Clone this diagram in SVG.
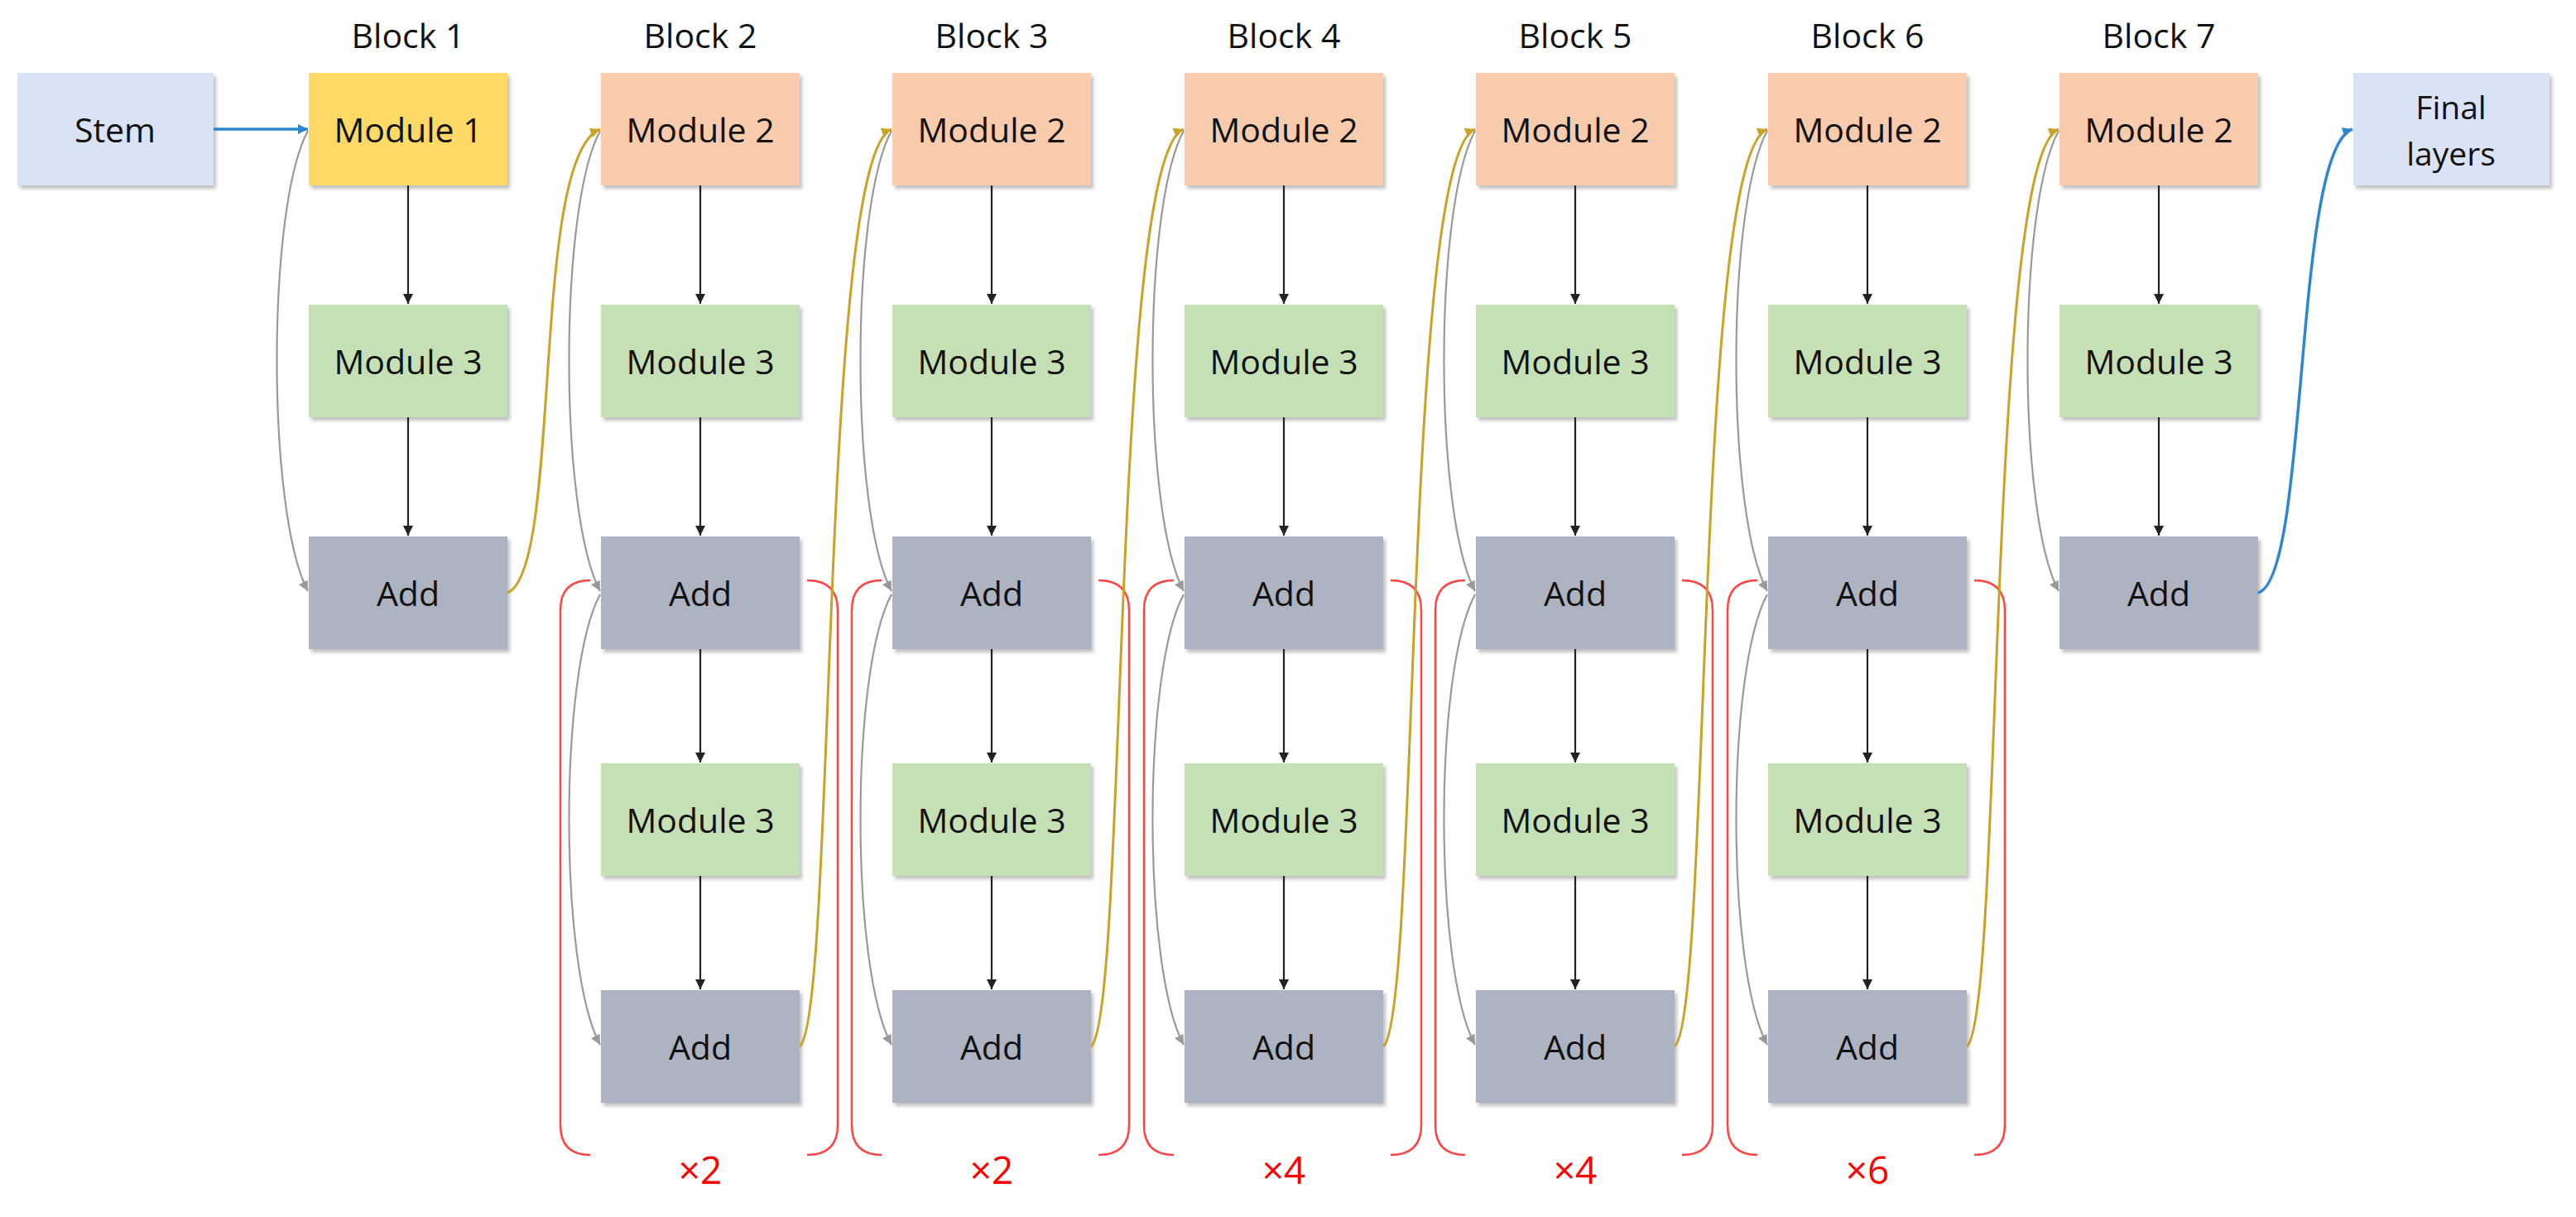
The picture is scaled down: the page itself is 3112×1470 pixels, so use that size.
<svg xmlns="http://www.w3.org/2000/svg" width="3112" height="1470" viewBox="0 0 3112 1470">
<style>
text{font-family:"Open Sans","Liberation Sans",sans-serif;fill:#111;text-anchor:middle;dominant-baseline:central}
.t{font-size:41px}.b{font-size:41px}.f{font-size:39px}.x{font-size:46px;fill:#f00}
.stem{fill:#DAE3F3}.m1{fill:#FFD966}.m2{fill:#F8CBAD}.m3{fill:#C5E0B4}.add{fill:#ADB3C1}
rect{filter:url(#sh)}
.k{stroke:#222;stroke-width:2.2;fill:none;marker-end:url(#ak)}
.g{stroke:#999;stroke-width:2.2;fill:none;marker-end:url(#ag)}
.y{stroke:#C9A227;stroke-width:3;fill:none;marker-end:url(#ay)}
.bl{stroke:#2E86D0;stroke-width:3.5;fill:none;marker-end:url(#ab)}
.br{stroke:#F44;stroke-width:2.5;fill:none}
</style>
<defs>
<filter id="sh" x="-5%" y="-5%" width="115%" height="115%"><feDropShadow dx="3" dy="4" stdDeviation="2" flood-color="#000" flood-opacity="0.25"/></filter>
<marker id="ak" markerUnits="userSpaceOnUse" markerWidth="14" markerHeight="14" refX="12" refY="6" orient="auto"><path d="M0,0 L12,6 L0,12 Z" fill="#222"/></marker>
<marker id="ag" markerUnits="userSpaceOnUse" markerWidth="14" markerHeight="14" refX="12" refY="6" orient="auto"><path d="M0,0 L12,6 L0,12 Z" fill="#999"/></marker>
<marker id="ay" markerUnits="userSpaceOnUse" markerWidth="14" markerHeight="14" refX="12" refY="6" orient="auto"><path d="M0,0 L12,6 L0,12 Z" fill="#C9A227"/></marker>
<marker id="ab" markerUnits="userSpaceOnUse" markerWidth="14" markerHeight="14" refX="12" refY="6" orient="auto"><path d="M0,0 L12,6 L0,12 Z" fill="#2E86D0"/></marker>
</defs>
<rect width="3112" height="1470" fill="#fff" style="filter:none"/>
<g id="labels">
<text class="t" x="493" y="42">Block 1</text><text class="t" x="846" y="42">Block 2</text><text class="t" x="1198" y="42">Block 3</text><text class="t" x="1551" y="42">Block 4</text><text class="t" x="1903" y="42">Block 5</text><text class="t" x="2256" y="42">Block 6</text><text class="t" x="2608" y="42">Block 7</text>
</g>
<g id="stem"><rect class="stem" x="21" y="88" width="237" height="136"/><text class="b" x="139" y="156">Stem</text></g>
<g id="final"><rect class="stem" x="2843" y="88" width="237" height="136"/><text class="f" x="2961" y="128">Final</text><text class="f" x="2961" y="184">layers</text></g>
<g id="b1"><rect class="m1" x="373" y="88" width="240" height="136"/><text class="b" x="493" y="156">Module 1</text>
<rect class="m3" x="373" y="368" width="240" height="136"/><text class="b" x="493" y="436">Module 3</text>
<rect class="add" x="373" y="648" width="240" height="136"/><text class="b" x="493" y="716">Add</text></g>
<g id="b2"><rect class="m2" x="726" y="88" width="240" height="136"/><text class="b" x="846" y="156">Module 2</text>
<rect class="m3" x="726" y="368" width="240" height="136"/><text class="b" x="846" y="436">Module 3</text>
<rect class="add" x="726" y="648" width="240" height="136"/><text class="b" x="846" y="716">Add</text>
<rect class="m3" x="726" y="922" width="240" height="136"/><text class="b" x="846" y="990">Module 3</text>
<rect class="add" x="726" y="1196" width="240" height="136"/><text class="b" x="846" y="1264">Add</text></g>
<g id="b3"><rect class="m2" x="1078" y="88" width="240" height="136"/><text class="b" x="1198" y="156">Module 2</text>
<rect class="m3" x="1078" y="368" width="240" height="136"/><text class="b" x="1198" y="436">Module 3</text>
<rect class="add" x="1078" y="648" width="240" height="136"/><text class="b" x="1198" y="716">Add</text>
<rect class="m3" x="1078" y="922" width="240" height="136"/><text class="b" x="1198" y="990">Module 3</text>
<rect class="add" x="1078" y="1196" width="240" height="136"/><text class="b" x="1198" y="1264">Add</text></g>
<g id="b4"><rect class="m2" x="1431" y="88" width="240" height="136"/><text class="b" x="1551" y="156">Module 2</text>
<rect class="m3" x="1431" y="368" width="240" height="136"/><text class="b" x="1551" y="436">Module 3</text>
<rect class="add" x="1431" y="648" width="240" height="136"/><text class="b" x="1551" y="716">Add</text>
<rect class="m3" x="1431" y="922" width="240" height="136"/><text class="b" x="1551" y="990">Module 3</text>
<rect class="add" x="1431" y="1196" width="240" height="136"/><text class="b" x="1551" y="1264">Add</text></g>
<g id="b5"><rect class="m2" x="1783" y="88" width="240" height="136"/><text class="b" x="1903" y="156">Module 2</text>
<rect class="m3" x="1783" y="368" width="240" height="136"/><text class="b" x="1903" y="436">Module 3</text>
<rect class="add" x="1783" y="648" width="240" height="136"/><text class="b" x="1903" y="716">Add</text>
<rect class="m3" x="1783" y="922" width="240" height="136"/><text class="b" x="1903" y="990">Module 3</text>
<rect class="add" x="1783" y="1196" width="240" height="136"/><text class="b" x="1903" y="1264">Add</text></g>
<g id="b6"><rect class="m2" x="2136" y="88" width="240" height="136"/><text class="b" x="2256" y="156">Module 2</text>
<rect class="m3" x="2136" y="368" width="240" height="136"/><text class="b" x="2256" y="436">Module 3</text>
<rect class="add" x="2136" y="648" width="240" height="136"/><text class="b" x="2256" y="716">Add</text>
<rect class="m3" x="2136" y="922" width="240" height="136"/><text class="b" x="2256" y="990">Module 3</text>
<rect class="add" x="2136" y="1196" width="240" height="136"/><text class="b" x="2256" y="1264">Add</text></g>
<g id="b7"><rect class="m2" x="2488" y="88" width="240" height="136"/><text class="b" x="2608" y="156">Module 2</text>
<rect class="m3" x="2488" y="368" width="240" height="136"/><text class="b" x="2608" y="436">Module 3</text>
<rect class="add" x="2488" y="648" width="240" height="136"/><text class="b" x="2608" y="716">Add</text></g>
<g id="repeats">
<path class="br" d="M713 701 Q677 701 677 737 V1359 Q677 1395 713 1395 M975 701 Q1012 701 1012 737 V1359 Q1012 1395 975 1395"/><text class="x" x="846" y="1412">×2</text>
<path class="br" d="M1065 701 Q1029 701 1029 737 V1359 Q1029 1395 1065 1395 M1327 701 Q1364 701 1364 737 V1359 Q1364 1395 1327 1395"/><text class="x" x="1198" y="1412">×2</text>
<path class="br" d="M1418 701 Q1382 701 1382 737 V1359 Q1382 1395 1418 1395 M1680 701 Q1717 701 1717 737 V1359 Q1717 1395 1680 1395"/><text class="x" x="1551" y="1412">×4</text>
<path class="br" d="M1770 701 Q1734 701 1734 737 V1359 Q1734 1395 1770 1395 M2032 701 Q2069 701 2069 737 V1359 Q2069 1395 2032 1395"/><text class="x" x="1903" y="1412">×4</text>
<path class="br" d="M2123 701 Q2087 701 2087 737 V1359 Q2087 1395 2123 1395 M2385 701 Q2422 701 2422 737 V1359 Q2422 1395 2385 1395"/><text class="x" x="2256" y="1412">×6</text>
</g>
<g id="connectors">
<path class="bl" d="M258 156 H372"/>
<path class="bl" d="M2728 716 C2790 700 2770 180 2842 156"/>
<path class="k" d="M493 224 V367"/><path class="k" d="M493 504 V647"/>
<path class="k" d="M846 224 V367"/><path class="k" d="M846 504 V647"/><path class="k" d="M846 784 V921"/><path class="k" d="M846 1058 V1195"/>
<path class="k" d="M1198 224 V367"/><path class="k" d="M1198 504 V647"/><path class="k" d="M1198 784 V921"/><path class="k" d="M1198 1058 V1195"/>
<path class="k" d="M1551 224 V367"/><path class="k" d="M1551 504 V647"/><path class="k" d="M1551 784 V921"/><path class="k" d="M1551 1058 V1195"/>
<path class="k" d="M1903 224 V367"/><path class="k" d="M1903 504 V647"/><path class="k" d="M1903 784 V921"/><path class="k" d="M1903 1058 V1195"/>
<path class="k" d="M2256 224 V367"/><path class="k" d="M2256 504 V647"/><path class="k" d="M2256 784 V921"/><path class="k" d="M2256 1058 V1195"/>
<path class="k" d="M2608 224 V367"/><path class="k" d="M2608 504 V647"/>
<path class="g" d="M372 158 C322 250 322 620 372 714"/>
<path class="g" d="M725 158 C675 250 675 620 725 714"/><path class="g" d="M725 718 C675 810 675 1170 725 1262"/>
<path class="g" d="M1077 158 C1027 250 1027 620 1077 714"/><path class="g" d="M1077 718 C1027 810 1027 1170 1077 1262"/>
<path class="g" d="M1430 158 C1380 250 1380 620 1430 714"/><path class="g" d="M1430 718 C1380 810 1380 1170 1430 1262"/>
<path class="g" d="M1782 158 C1732 250 1732 620 1782 714"/><path class="g" d="M1782 718 C1732 810 1732 1170 1782 1262"/>
<path class="g" d="M2135 158 C2085 250 2085 620 2135 714"/><path class="g" d="M2135 718 C2085 810 2085 1170 2135 1262"/>
<path class="g" d="M2487 158 C2437 250 2437 620 2487 714"/>
<path class="y" d="M613 716 C680 690 640 190 725 156"/>
<path class="y" d="M966 1264 C1010 1230 990 190 1077 156"/>
<path class="y" d="M1318 1264 C1362 1230 1342 190 1430 156"/>
<path class="y" d="M1671 1264 C1715 1230 1695 190 1782 156"/>
<path class="y" d="M2023 1264 C2067 1230 2047 190 2135 156"/>
<path class="y" d="M2376 1264 C2420 1230 2400 190 2487 156"/>
</g>
</svg>
